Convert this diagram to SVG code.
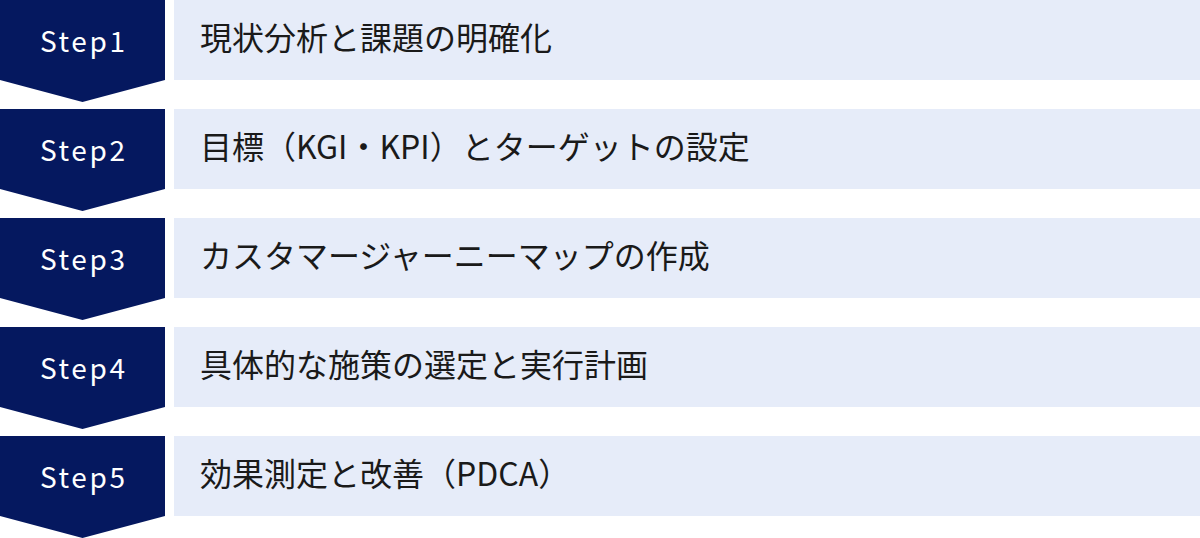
<svg xmlns="http://www.w3.org/2000/svg" width="1200" height="538" viewBox="0 0 1200 538">
<defs>
<style>
.step{fill:#05185F;}
.bar{fill:#E6ECF9;}
.lbl{font-family:"Noto Sans CJK JP","Noto Sans",sans-serif;font-size:28px;fill:#FFFFFF;letter-spacing:2.6px;text-anchor:middle;}
.txt{font-family:"Noto Sans CJK JP","Noto Sans",sans-serif;font-size:32px;fill:#1A1A1A;}
</style>
</defs>
<rect width="1200" height="538" fill="#FFFFFF"/>
<g id="connectors"></g>
<g id="step1">
<polygon class="step" points="0,0 165,0 165,80 82.5,102 0,80"/>
<rect class="bar" x="174" y="0" width="1026" height="80"/>
<text class="lbl" x="83.8" y="52">Step1</text>
<text class="txt" x="200" y="50">現状分析と課題の明確化</text>
</g>
<g id="step2">
<polygon class="step" points="0,109 165,109 165,189 82.5,211 0,189"/>
<rect class="bar" x="174" y="109" width="1026" height="80"/>
<text class="lbl" x="83.8" y="161">Step2</text>
<text class="txt" x="200" y="159">目標（KGI・KPI）とターゲットの設定</text>
</g>
<g id="step3">
<polygon class="step" points="0,218 165,218 165,298 82.5,320 0,298"/>
<rect class="bar" x="174" y="218" width="1026" height="80"/>
<text class="lbl" x="83.8" y="270">Step3</text>
<text class="txt" x="200" y="268">カスタマージャーニーマップの作成</text>
</g>
<g id="step4">
<polygon class="step" points="0,327 165,327 165,407 82.5,429 0,407"/>
<rect class="bar" x="174" y="327" width="1026" height="80"/>
<text class="lbl" x="83.8" y="379">Step4</text>
<text class="txt" x="200" y="377">具体的な施策の選定と実行計画</text>
</g>
<g id="step5">
<polygon class="step" points="0,436 165,436 165,516 82.5,538 0,516"/>
<rect class="bar" x="174" y="436" width="1026" height="80"/>
<text class="lbl" x="83.8" y="488">Step5</text>
<text class="txt" x="200" y="486">効果測定と改善（PDCA）</text>
</g>
</svg>
